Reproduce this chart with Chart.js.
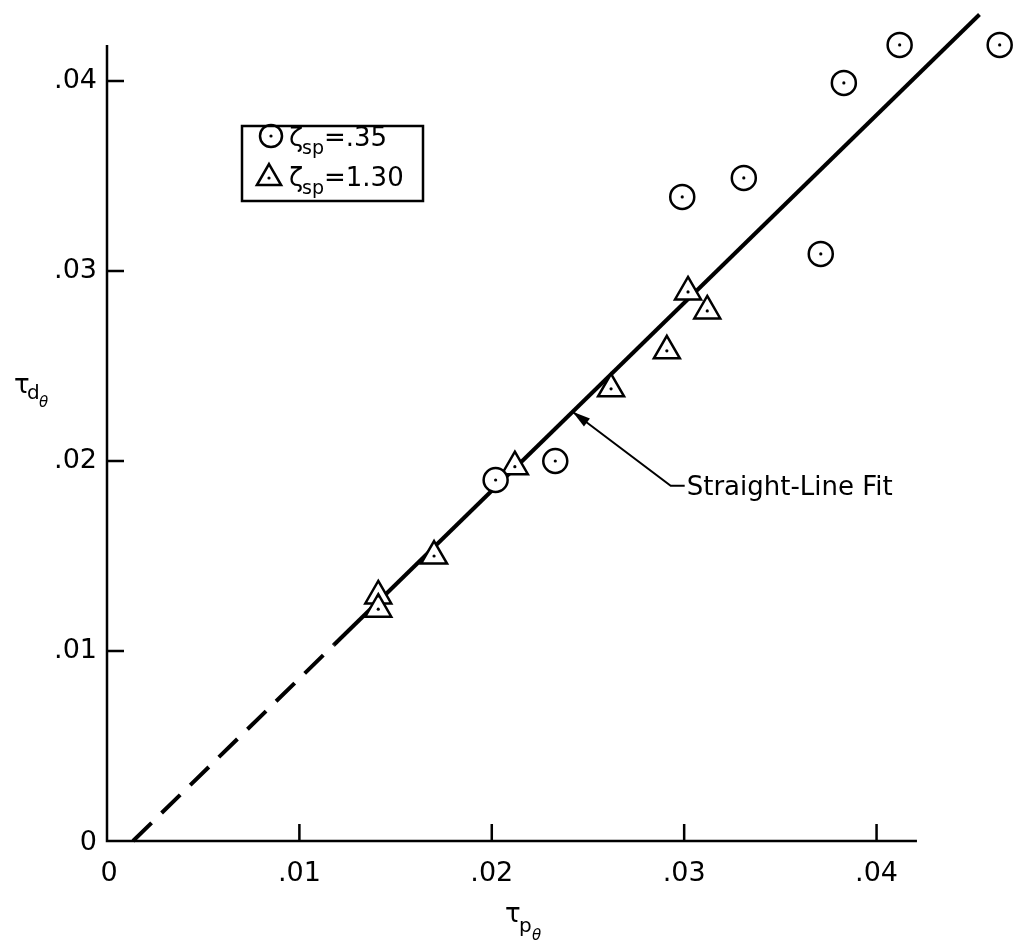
<!DOCTYPE html>
<html>
<head>
<meta charset="utf-8">
<script src="https://cdn.jsdelivr.net/npm/chart.js@4/dist/chart.umd.min.js"></script>
<style>
    html, body { margin: 0; padding: 0; background: #fff; overflow: hidden; }
    #chart { display: block; }
</style>
</head>
<body>
<canvas id="chart" width="1017" height="947"></canvas>
<script>
/* =============================
   DATA
============================= */

// zeta_sp = .35 (circles)
const lowDampX = [0.0202, 0.0233, 0.0299, 0.0331, 0.0371, 0.0383, 0.0412, 0.0464];
const lowDampY = [0.0190, 0.0200, 0.0339, 0.0349, 0.0309, 0.0399, 0.0419, 0.0419];

// zeta_sp = 1.30 (triangles)
const highDampX = [0.0141, 0.0141, 0.0170, 0.0212, 0.0262, 0.0291, 0.0302, 0.0312];
const highDampY = [0.0129, 0.0122, 0.0150, 0.0197, 0.0238, 0.0258, 0.0289, 0.0279];

// straight-line fit: dashed part, then solid part
const fitDashX = [0.00135, 0.0118];
const fitSolidX = [0.0118, 0.04535];
const fitSlope = 0.98864;
const fitIntercept = 0.00135;   // x where the fit crosses zero

const tickValues = [0, 0.01, 0.02, 0.03, 0.04];
const tickLabels = ["0", ".01", ".02", ".03", ".04"];
const axisEndX = 0.0421;
const axisEndY = 0.0419;

const legendLabels = ["=.35", "=1.30"];
const fitLabel = "Straight-Line Fit";
const arrowTipX = 0.0242;
const arrowElbow = [0.0293, 0.0187];

/* =============================
   HELPERS
============================= */

const fitY = x => (x - fitIntercept) * fitSlope;
const toPoints = (xs, ys) => xs.map((x, i) => ({ x: x, y: ys[i] }));
const fitPoints = xs => xs.map(x => ({ x: x, y: fitY(x) }));

const FONT = "'DejaVu Sans', sans-serif";

/* =============================
   AXES + TEXT PLUGIN
============================= */

const drawFrame = {
    id: "drawFrame",
    afterDraw(chart) {
        const ctx = chart.ctx;
        const xs = chart.scales.x, ys = chart.scales.y;
        const x0 = xs.getPixelForValue(0), y0 = ys.getPixelForValue(0);

        ctx.save();
        ctx.strokeStyle = "#000";
        ctx.fillStyle = "#000";
        ctx.lineWidth = 2.5;
        ctx.lineCap = "butt";

        // axis lines
        ctx.beginPath();
        ctx.moveTo(x0, ys.getPixelForValue(axisEndY));
        ctx.lineTo(x0, y0);
        ctx.lineTo(xs.getPixelForValue(axisEndX), y0);
        ctx.stroke();

        // ticks (inward) + labels
        ctx.font = "27px " + FONT;
        tickValues.forEach((v, i) => {
            const px = xs.getPixelForValue(v);
            const py = ys.getPixelForValue(v);
            if (v !== 0) {
                ctx.beginPath();
                ctx.moveTo(px, y0); ctx.lineTo(px, y0 - 17);
                ctx.moveTo(x0, py); ctx.lineTo(x0 + 17, py);
                ctx.stroke();
            }
            ctx.textAlign = "center";
            ctx.textBaseline = "middle";
            ctx.fillText(tickLabels[i], px + (v === 0 ? 2 : 0), y0 + 33);
            ctx.textAlign = "right";
            ctx.fillText(tickLabels[i], x0 - 10, py + (v === 0 ? 2 : 0));
        });

        // axis titles
        ctx.textAlign = "left";
        ctx.textBaseline = "alphabetic";
        ctx.font = "26px " + FONT;
        ctx.fillText("τ", 14, 393);
        ctx.font = "20px " + FONT;
        ctx.fillText("d", 27, 399);
        ctx.font = "italic 15px " + FONT;
        ctx.fillText("θ", 39, 407);

        ctx.font = "26px " + FONT;
        ctx.fillText("τ", 505, 922);
        ctx.font = "20px " + FONT;
        ctx.fillText("p", 519, 932);
        ctx.font = "italic 15px " + FONT;
        ctx.fillText("θ", 532, 940);

        // legend box
        const lx = chart.chartArea.left + 135, ly = 126;
        ctx.lineWidth = 2.5;
        ctx.strokeRect(lx, ly, 181, 75);
        ctx.beginPath();
        ctx.arc(lx + 29, ly + 10, 11, 0, Math.PI * 2);
        ctx.stroke();
        ctx.beginPath();
        ctx.arc(lx + 29, ly + 10, 1.6, 0, Math.PI * 2);
        ctx.fill();
        const tr = 14, tcx = lx + 27, tcy = ly + 52;
        ctx.beginPath();
        for (let k = 0; k < 3; k++) {
            const a = k * 2 * Math.PI / 3;
            const px = tcx + Math.sin(a) * tr, py = tcy - Math.cos(a) * tr;
            if (k === 0) ctx.moveTo(px, py); else ctx.lineTo(px, py);
        }
        ctx.closePath();
        ctx.stroke();
        ctx.beginPath();
        ctx.arc(tcx, tcy, 1.6, 0, Math.PI * 2);
        ctx.fill();

        legendLabels.forEach((lab, i) => {
            const by = ly + 20 + i * 40;
            ctx.font = "26px " + FONT;
            ctx.fillText("ζ", lx + 47, by);
            ctx.font = "19px " + FONT;
            ctx.fillText("sp", lx + 60, by + 8);
            ctx.font = "26px " + FONT;
            ctx.fillText(lab, lx + 82, by);
        });

        // annotation arrow + label
        const tipX = xs.getPixelForValue(arrowTipX);
        const tipY = ys.getPixelForValue(fitY(arrowTipX));
        const ex = xs.getPixelForValue(arrowElbow[0]);
        const ey = ys.getPixelForValue(arrowElbow[1]);
        ctx.lineWidth = 2;
        ctx.beginPath();
        ctx.moveTo(ex + 14, ey);
        ctx.lineTo(ex, ey);
        ctx.lineTo(tipX, tipY);
        ctx.stroke();
        const ang = Math.atan2(ey - tipY, ex - tipX);
        ctx.beginPath();
        ctx.moveTo(tipX, tipY);
        ctx.lineTo(tipX + 18 * Math.cos(ang) - 5 * Math.sin(ang), tipY + 18 * Math.sin(ang) + 5 * Math.cos(ang));
        ctx.lineTo(tipX + 18 * Math.cos(ang) + 5 * Math.sin(ang), tipY + 18 * Math.sin(ang) - 5 * Math.cos(ang));
        ctx.closePath();
        ctx.fill();
        ctx.font = "26px " + FONT;
        ctx.textBaseline = "middle";
        ctx.fillText(fitLabel, ex + 16, ey + 3);

        ctx.restore();
    }
};

/* =============================
   CHART
============================= */

const markerStyle = {
    backgroundColor: "#fff",
    borderColor: "#000",
    borderWidth: 2.5,
    pointHoverRadius: 0
};

new Chart(document.getElementById("chart"), {
    type: "scatter",
    data: {
        datasets: [
            {
                type: "line",
                data: fitPoints(fitDashX),
                borderColor: "#000",
                borderWidth: 4,
                borderDash: [26, 14],
                pointRadius: 0,
                order: 5
            },
            {
                type: "line",
                data: fitPoints(fitSolidX),
                borderColor: "#000",
                borderWidth: 4,
                pointRadius: 0,
                order: 5
            },
            Object.assign({
                data: toPoints(lowDampX, lowDampY),
                pointStyle: "circle",
                pointRadius: 12,
                order: 2
            }, markerStyle),
            Object.assign({
                data: toPoints(highDampX, highDampY),
                pointStyle: "triangle",
                pointRadius: 15,
                order: 2
            }, markerStyle),
            {
                data: toPoints(lowDampX, lowDampY).concat(toPoints(highDampX, highDampY)),
                pointStyle: "circle",
                pointRadius: 1.6,
                backgroundColor: "#000",
                borderWidth: 0,
                order: 1
            }
        ]
    },
    options: {
        responsive: false,
        animation: false,
        clip: false,
        layout: {
            autoPadding: false,
            padding: { left: 107, right: 0, top: 5, bottom: 106 }
        },
        scales: {
            x: { type: "linear", min: 0, max: 0.0473, display: false },
            y: { type: "linear", min: 0, max: 0.044, display: false }
        },
        plugins: {
            legend: { display: false },
            tooltip: { enabled: false }
        }
    },
    plugins: [drawFrame]
});
</script>
</body>
</html>
